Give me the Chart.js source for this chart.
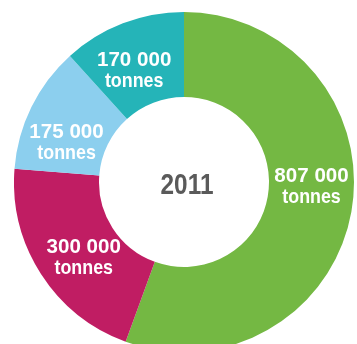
<!DOCTYPE html>
<html>
<head>
<meta charset="utf-8">
<script src="https://cdn.jsdelivr.net/npm/chart.js@4"></script>
<style>
  html, body { margin: 0; padding: 0; background: #fff; overflow: hidden; }
  body { width: 357px; height: 344px; position: relative; }
  #tonnage { position: absolute; left: 14px; top: 12px; }
</style>
</head>
<body>
<canvas id="tonnage" width="340" height="340"></canvas>
<script>
const categories = ["Vert", "Magenta", "Bleu clair", "Turquoise"];
const tonnes = [807000, 300000, 175000, 170000];
const sliceColors = ["#74b843", "#c01d63", "#8ccfee", "#25b4b8"];
const yearLabel = "2011";
const unitLabel = "tonnes";

// nudges from each slice centroid to the first text baseline
const labelOffsets = [
  [2, -22],
  [7, 2],
  [-3, 12],
  [-4, 3],
];

function formatTonnes(value) {
  return String(value).replace(/\B(?=(\d{3})+(?!\d))/g, " ");
}

// condensed text: squeeze glyphs horizontally around the anchor point
function drawCondensed(ctx, text, x, y, squeeze) {
  ctx.save();
  ctx.translate(x, y);
  ctx.scale(squeeze, 1);
  ctx.fillText(text, 0, 0);
  ctx.restore();
}

const sliceLabels = {
  id: "sliceLabels",
  afterDatasetsDraw(chart) {
    const ctx = chart.ctx;
    const meta = chart.getDatasetMeta(0);
    ctx.save();
    ctx.fillStyle = "#ffffff";
    ctx.textAlign = "center";
    ctx.textBaseline = "alphabetic";
    meta.data.forEach((arc, i) => {
      const pos = arc.tooltipPosition();
      const x = pos.x + labelOffsets[i][0];
      const y = pos.y + labelOffsets[i][1];
      ctx.font = 'bold 21px "Liberation Sans", Arial, sans-serif';
      drawCondensed(ctx, formatTonnes(tonnes[i]), x, y, 0.98);
      ctx.font = 'bold 21px "Liberation Sans", Arial, sans-serif';
      drawCondensed(ctx, unitLabel, x, y + 21, 0.85);
    });

    const c = meta.data[0];
    ctx.fillStyle = "#5a5a5a";
    ctx.font = 'bold 29px "Liberation Sans", Arial, sans-serif';
    drawCondensed(ctx, yearLabel, c.x + 3, c.y + 12, 0.84);
    ctx.restore();
  },
};

new Chart(document.getElementById("tonnage").getContext("2d"), {
  type: "doughnut",
  data: {
    labels: categories,
    datasets: [
      {
        data: tonnes,
        backgroundColor: sliceColors,
        borderWidth: 0,
        hoverOffset: 0,
      },
    ],
  },
  options: {
    responsive: false,
    animation: false,
    cutout: "50%",
    events: [],
    layout: { padding: 0 },
    plugins: {
      legend: { display: false },
      tooltip: { enabled: false },
    },
  },
  plugins: [sliceLabels],
});
</script>
</body>
</html>
